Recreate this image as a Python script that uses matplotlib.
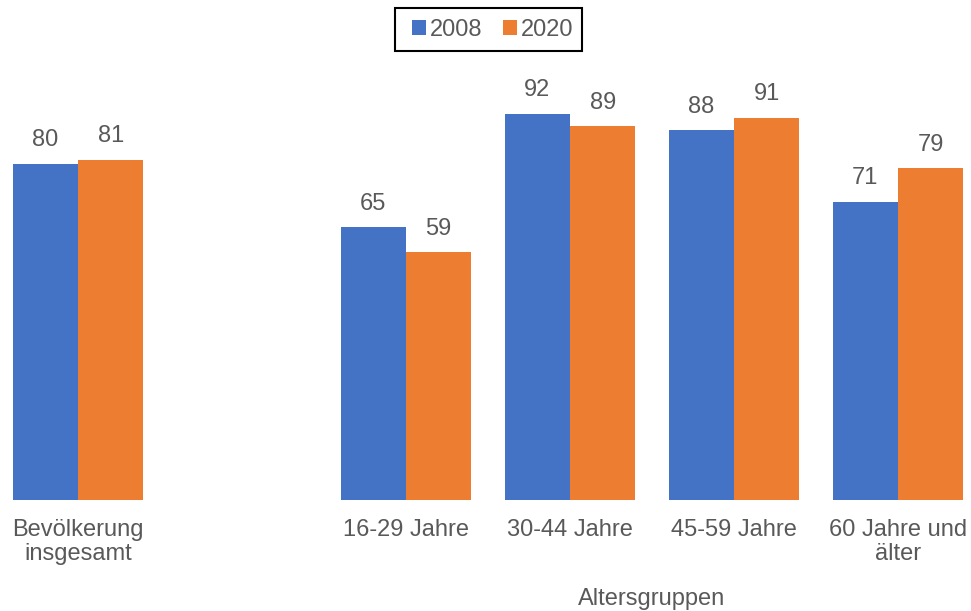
import numpy as np
import matplotlib
matplotlib.use("Agg")
import matplotlib.pyplot as plt
from matplotlib.patches import Rectangle

plt.rcParams['font.family'] = ['Liberation Sans', 'DejaVu Sans']

# data
categories = ["Bevölkerung\ninsgesamt", "16-29 Jahre", "30-44 Jahre",
              "45-59 Jahre", "60 Jahre und\nälter"]
years = ["2008", "2020"]
values_2008 = [80, 65, 92, 88, 71]
values_2020 = [81, 59, 89, 91, 79]
group_label = "Altersgruppen"

blue = "#4472C4"
orange = "#ED7D31"
grey = "#595959"
fs = 17

fig = plt.figure(figsize=(9.71, 6.11), dpi=100)
# plot area: baseline at y=500px, value 100 at y=80px
ax = fig.add_axes([0, 111 / 611, 1, 420 / 611])

# one empty slot between the total and the age groups
x = np.arange(len(categories), dtype=float)
x[1:] += 1
w = 0.398

b1 = ax.bar(x - w, values_2008, w, align="edge", color=blue, label=years[0])
b2 = ax.bar(x, values_2020, w, align="edge", color=orange, label=years[1])
ax.bar_label(b1, padding=9, fontsize=fs, color=grey)
ax.bar_label(b2, padding=9, fontsize=fs, color=grey)

ax.set_xlim(-78 / 164, 893 / 164)
ax.set_ylim(0, 100)
ax.set_xticks(x)
ax.set_xticklabels(categories, fontsize=fs, color=grey, linespacing=1.1)
ax.tick_params(axis="x", length=0, pad=14)
ax.set_yticks([])
for s in ax.spines.values():
    s.set_visible(False)

# legend without its own frame, boxed by a plain rectangle like the original
leg = fig.legend(loc="center", bbox_to_anchor=(492.5 / 971, 1 - 30 / 611),
                 ncol=2, fontsize=fs, frameon=False,
                 handlelength=0.6, handleheight=0.6, handletextpad=0.15,
                 columnspacing=0.9, borderpad=0.3, labelcolor=grey)
fig.add_artist(Rectangle((395 / 971, 1 - 51 / 611), 187 / 971, 43 / 611,
                         transform=fig.transFigure, fill=False,
                         edgecolor="black", linewidth=1.5))

# label for the age groups, centred under them
xc = (x[1] + x[-1]) / 2
ax.annotate(group_label, xy=(xc, 0), xycoords=("data", "figure pixels"),
            xytext=(0, 611 - 605), textcoords="offset pixels",
            fontsize=fs, color=grey, ha="center", va="baseline")

fig.savefig("out.png", dpi=100)
